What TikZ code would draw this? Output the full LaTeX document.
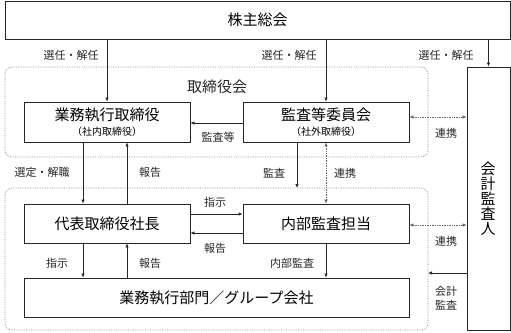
\documentclass[tikz,border=0pt]{standalone}
\usepackage{fontspec}
\setmainfont{Noto Sans CJK JP}
\usetikzlibrary{arrows.meta}
\newcommand{\subfnt}{\fontsize{10}{12}\selectfont}
\begin{document}
\begin{tikzpicture}[x=1pt,y=-1pt,
  box/.style={draw=black!85,line width=0.7pt,inner sep=0pt,align=center,font=\fontsize{15}{17}\selectfont},
  grp/.style={draw=black!45,densely dotted,line width=0.7pt,rounded corners=7pt},
  arr/.style={-{Latex[length=4pt,width=3.5pt]},line width=0.7pt,draw=black!85},
  darr/.style={{Latex[length=4pt,width=3.5pt]}-{Latex[length=4pt,width=3.5pt]},line width=0.7pt,densely dotted,draw=black!60},
  lbl/.style={font=\fontsize{11}{13}\selectfont,inner sep=0pt,text=black!85}]
\useasboundingbox (0,0) rectangle (511,332);
% groups
\draw[grp] (5,67) rectangle (428,157);
\draw[grp] (5,188) rectangle (428,330);
\node[lbl,font=\fontsize{15}{17}\selectfont] (bodlbl) at (217,87) {取締役会};
% boxes
\node[box,minimum width=505pt,minimum height=38pt] (gm) at (257.5,20) {株主総会};
\node[box,minimum width=166pt,minimum height=40pt] (exd) at (107,122) {業務執行取締役\\[-2pt]{\subfnt （社内取締役）}};
\node[box,minimum width=166pt,minimum height=40pt] (ac) at (326,122) {監査等委員会\\[-2pt]{\subfnt （社外取締役）}};
\node[box,minimum width=43pt,minimum height=263pt] (aud) at (488.5,198.5) {};
\node[font=\fontsize{15}{17}\selectfont,align=center,inner sep=0pt] (audt) at (488,199) {会\\[-2pt]計\\[-2pt]監\\[-2pt]査\\[-2pt]人};
\node[box,minimum width=166pt,minimum height=39pt] (ceo) at (107,223.5) {代表取締役社長};
\node[box,minimum width=166pt,minimum height=39pt] (ia) at (326,223.5) {内部監査担当};
\node[box,minimum width=385pt,minimum height=39pt] (biz) at (216.5,297.5) {業務執行部門／グループ会社};
% coordinates
\coordinate (g2top) at (297,188);
\coordinate (g2right) at (428,273);
% arrows from GM
\draw[arr] (gm.south -| exd.north) -- (exd.north);
\draw[arr] (gm.south -| ac.north) -- (ac.north);
\draw[arr] (gm.south -| aud.north) -- (aud.north);
\node[lbl] (l1) at (71,55) {選任・解任};
\node[lbl] (l2) at (289,55) {選任・解任};
\node[lbl] (l3) at (446,55) {選任・解任};
% audit committee
\draw[arr] (ac.west |- 0,123) -- (exd.east |- 0,123);
\node[lbl] (l4) at (218,137) {監査等};
\draw[darr] (ac.east |- 0,117) -- (aud.west |- 0,117);
\node[lbl] (l5) at (446,133) {連携};
\draw[arr] (ac.south -| g2top) -- (g2top);
\node[lbl] (l6) at (274,173) {監査};
\draw[darr] (ac.south) -- (ia.north);
\node[lbl] (l7) at (345,173) {連携};
% exec directors -> CEO
\draw[arr] (exd.south -| 83,0) -- (ceo.north -| 83,0);
\node[lbl] (l8) at (42,172) {選定・解職};
\draw[arr] (ceo.north -| 127,0) -- (exd.south -| 127,0);
\node[lbl] (l9) at (150,172) {報告};
% CEO <-> IA
\draw[arr] (ceo.east |- 0,214) -- (ia.west |- 0,214);
\node[lbl] (l10) at (215,202) {指示};
\draw[arr] (ia.west |- 0,233) -- (ceo.east |- 0,233);
\node[lbl] (l11) at (215,248) {報告};
% CEO <-> biz
\draw[arr] (ceo.south -| 83,0) -- (biz.north -| 83,0);
\node[lbl] (l12) at (57,263) {指示};
\draw[arr] (biz.north -| 127,0) -- (ceo.south -| 127,0);
\node[lbl] (l13) at (150,263) {報告};
\draw[arr] (ia.south) -- (biz.north -| ia.south);
\node[lbl] (l14) at (292,263) {内部監査};
% IA <-> auditor
\draw[darr] (ia.east |- 0,225) -- (aud.west |- 0,225);
\node[lbl] (l15) at (446,241) {連携};
\draw[arr] (aud.west |- g2right) -- (g2right);
\node[lbl,align=center] (l16) at (446,298) {会計\\[1pt]監査};
\end{tikzpicture}
\end{document}
